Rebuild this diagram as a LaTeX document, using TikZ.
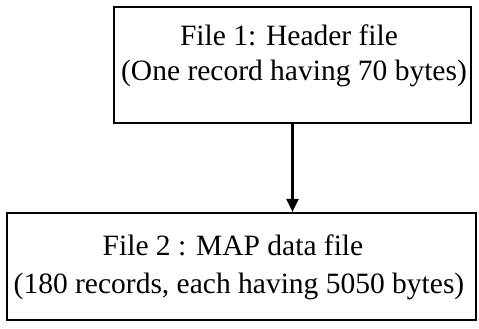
\documentclass[tikz,border=0pt]{standalone}
\usepackage{fontspec}
\setmainfont{Liberation Serif}
\usetikzlibrary{arrows.meta}
\begin{document}
\begin{tikzpicture}[x=1pt,y=-1pt,
  filebox/.style={draw=black, line width=2.2pt, rectangle, inner sep=0pt},
  filetext/.style={align=center, font=\fontsize{29.5}{35}\selectfont, inner sep=0pt},
  conn/.style={line width=2.2pt, -{Triangle[length=13pt,width=12pt]}}]
\useasboundingbox (0,0) rectangle (479,329);
\node[filebox, minimum width=357pt, minimum height=116pt] (b1) at (292.5,65) {};
\node[filebox, minimum width=469pt, minimum height=107pt] (b2) at (241.5,266.5) {};
\node[filetext] (t1) at (294,56) {File 1: Header file\hspace*{10pt}\\(One record having 70 bytes)};
\node[filetext, font=\fontsize{29.5}{38}\selectfont] (t2) at (239,267) {File 2 : MAP data file\hspace*{12pt}\\(180 records, each having 5050 bytes)};
\draw[conn] (b1.south) -- (b1.south |- b2.north);
\end{tikzpicture}
\end{document}
